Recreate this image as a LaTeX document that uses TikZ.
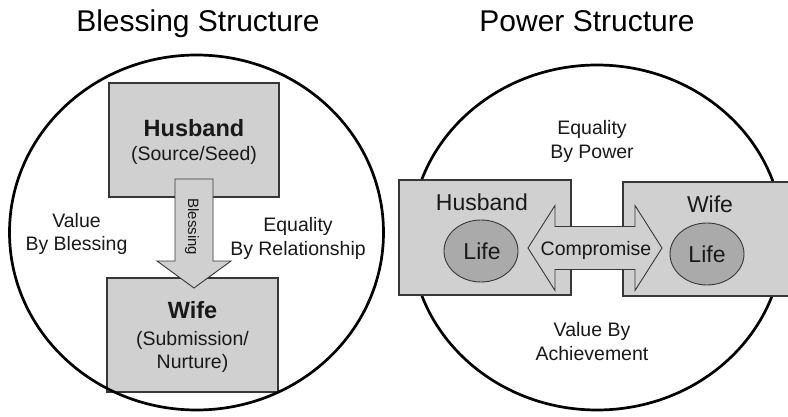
\documentclass[tikz,border=0pt]{standalone}
\usepackage{fontspec}
\setmainfont{Liberation Sans}
\usetikzlibrary{shapes.geometric}
\definecolor{boxgray}{RGB}{208,208,208}
\definecolor{lifegray}{RGB}{170,170,170}
\definecolor{edgegray}{RGB}{55,55,55}
\definecolor{ink}{RGB}{25,25,25}
\tikzset{
  ring/.style={draw=black,line width=2.7pt},
  panel/.style={draw=edgegray,fill=boxgray,line width=1.2pt},
  flow/.style={draw=edgegray,fill=boxgray,line width=0.9pt,line join=miter},
  life/.style={draw=edgegray,fill=lifegray,line width=0.9pt},
  lbl/.style={inner sep=0pt,text=ink,anchor=base,font=\fontsize{19.5}{23}\selectfont},
  big/.style={inner sep=0pt,text=ink,anchor=base,font=\fontsize{23}{27}\selectfont},
  bigb/.style={inner sep=0pt,text=ink,anchor=base,font=\fontsize{23.5}{27}\selectfont\bfseries},
  ttl/.style={inner sep=0pt,text=black,anchor=base,font=\fontsize{30}{34}\selectfont},
}
\begin{document}
\begin{tikzpicture}[x=1pt,y=-1pt]
\useasboundingbox[fill=white] (0,0) rectangle (788,417);
% ---------- Blessing structure ----------
\node[ttl] (t1) at (198,31.5) {Blessing Structure};
\node[panel,minimum width=170pt,minimum height=114pt,inner sep=0pt] (hb) at (194,140) {};
\node[panel,minimum width=171pt,minimum height=114pt,inner sep=0pt] (wb) at (192.5,335) {};
\draw[ring] (196.5,232.5) ellipse [x radius=187, y radius=177.5];
\draw[flow] (175,179) -- (213,179) -- (213,261) -- (231,261) -- (194,288)
  -- (157,261) -- (175,261) -- cycle;
\node[inner sep=0pt,text=ink,rotate=-90,font=\fontsize{15}{18}\selectfont] (bl) at (192,227) {Blessing};
\node[bigb] (h1) at (194,137) {Husband};
\node[lbl] (h1s) at (194,161) {(Source/Seed)};
\node[bigb] (w1) at (192.5,318) {Wife};
\node[lbl] (w1s) at (192.5,345) {(Submission/};
\node[lbl] (w1n) at (192.5,368) {Nurture)};
\node[lbl] (v1) at (76.5,227.5) {Value};
\node[lbl] (v1b) at (76.5,251) {By Blessing};
\node[lbl] (e1) at (298,231.5) {Equality};
\node[lbl] (e1b) at (298,255) {By Relationship};
% ---------- Power structure ----------
\node[ttl] (t2) at (587,32) {Power Structure};
\draw[ring] (597,237.5) ellipse [x radius=186, y radius=172.5];
\node[panel,minimum width=172pt,minimum height=115pt,inner sep=0pt] (hp) at (485,237.5) {};
\node[panel,minimum width=170pt,minimum height=114pt,inner sep=0pt] (wp) at (708,239) {};
\draw[flow] (528,248) -- (555,205.5) -- (555,226.5) -- (635,226.5) -- (635,205.5)
  -- (662,248) -- (635,290.5) -- (635,269.5) -- (555,269.5) -- (555,290.5) -- cycle;
\node[lbl] (cp) at (596,255) {Compromise};
\node[big] (h2) at (482,210.5) {Husband};
\node[big] (w2) at (710,212.5) {Wife};
\node[life,ellipse,minimum width=74pt,minimum height=62pt,inner sep=0pt] (l1) at (481,251) {};
\node[big] (l1t) at (482,259.5) {Life};
\node[life,ellipse,minimum width=74pt,minimum height=62pt,inner sep=0pt] (l2) at (707,254) {};
\node[big] (l2t) at (707,262.5) {Life};
\node[lbl] (e2) at (592,135) {Equality};
\node[lbl] (e2b) at (592,158.5) {By Power};
\node[lbl] (v2) at (592,336.5) {Value By};
\node[lbl] (v2b) at (592,360.5) {Achievement};
\end{tikzpicture}
\end{document}
